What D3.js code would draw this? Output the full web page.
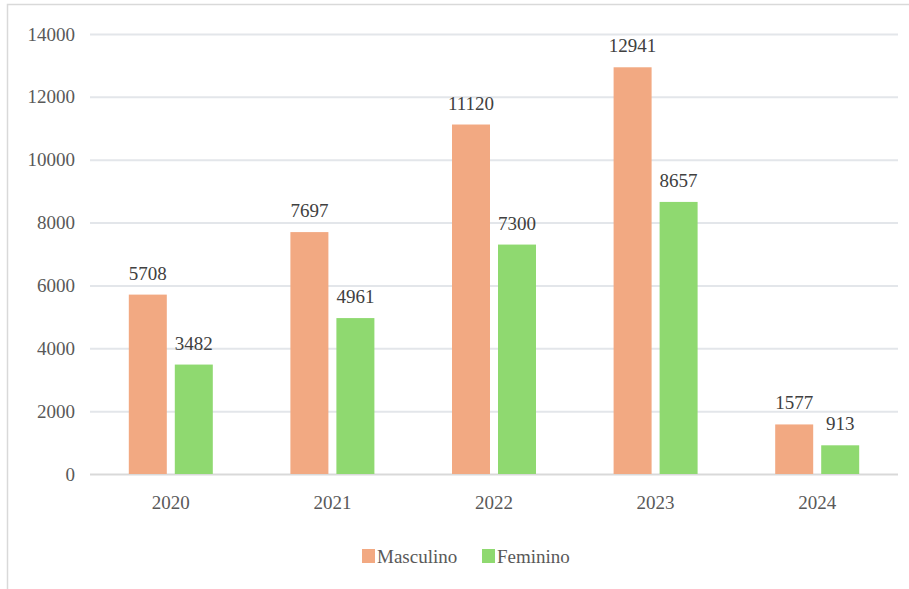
<!DOCTYPE html>
<html>
<head>
<meta charset="utf-8">
<script src="https://cdn.jsdelivr.net/npm/d3@7/dist/d3.min.js"></script>
<style>
  html, body { margin: 0; padding: 0; background: #ffffff; }
  svg { display: block; }
</style>
</head>
<body>
<svg id="chart" width="909" height="589"></svg>
<script>
const years = ["2020", "2021", "2022", "2023", "2024"];
const masculino = [5708, 7697, 11120, 12941, 1577];
const feminino = [3482, 4961, 7300, 8657, 913];
const seriesNames = ["Masculino", "Feminino"];
const seriesColors = ["#F2A982", "#8FD970"];
const yTicks = [0, 2000, 4000, 6000, 8000, 10000, 12000, 14000];

const FONT = "'Liberation Serif', 'Times New Roman', Times, 'DejaVu Serif', serif";

const svg = d3.select("#chart");
const W = 909, H = 589;

// outer frame
svg.append("path")
  .attr("d", `M7.5,${H} L7.5,4.5 L${W},4.5`)
  .attr("fill", "none").attr("stroke", "#d9d9d9").attr("stroke-width", 1.5);

const plot = { left: 90, right: 898, top: 34, bottom: 474 };

const x = d3.scaleBand().domain(years).range([plot.left, plot.right]);
const y = d3.scaleLinear().domain([0, 14000]).range([plot.bottom, plot.top]);

const barW = 38, gap = 8;

// grid lines + y labels
const yAxis = d3.axisLeft(y).tickValues(yTicks).tickSize(-(plot.right - plot.left)).tickPadding(15).tickFormat(d3.format("d"));
const gy = svg.append("g").attr("transform", `translate(${plot.left},0)`).call(yAxis)
  .attr("font-family", null).attr("font-size", null);
gy.select(".domain").remove();
gy.selectAll(".tick line").attr("stroke", "#e3e6ea").attr("stroke-width", 2);
gy.selectAll(".tick").filter(d => d === 0).select("line").attr("stroke", "#d9d9d9");
gy.selectAll(".tick text").style("font-family", FONT).style("font-size", "19px").attr("fill", "#595959");

// x axis labels
const xAxis = d3.axisBottom(x).tickSize(0).tickPadding(22);
const gx = svg.append("g").attr("transform", `translate(0,${plot.bottom})`).call(xAxis)
  .attr("font-family", null).attr("font-size", null);
gx.select(".domain").remove();
gx.selectAll(".tick text").style("font-family", FONT).style("font-size", "19px").attr("fill", "#595959");

const data = years.map((yr, i) => ({ year: yr, values: [masculino[i], feminino[i]] }));

const groupOffset = (x.bandwidth() - (barW * 2 + gap)) / 2;
const groups = svg.append("g").selectAll("g").data(data).join("g")
  .attr("transform", d => `translate(${x(d.year) + groupOffset},0)`);

groups.selectAll("rect").data(d => d.values.map((v, j) => ({ v, j }))).join("rect")
  .attr("x", d => d.j * (barW + gap))
  .attr("y", d => y(d.v))
  .attr("width", barW)
  .attr("height", d => y(0) - y(d.v))
  .attr("fill", d => seriesColors[d.j]);

groups.selectAll("text.lbl").data(d => d.values.map((v, j) => ({ v, j }))).join("text")
  .attr("class", "lbl")
  .attr("x", d => d.j * (barW + gap) + barW / 2)
  .attr("y", d => y(d.v) - 15)
  .attr("text-anchor", "middle")
  .style("font-family", FONT).style("font-size", "19px")
  .attr("fill", "#404040")
  .text(d => d.v);

// legend
const legendX = [362, 482];
const leg = svg.append("g");
seriesNames.forEach((name, i) => {
  leg.append("rect").attr("x", legendX[i]).attr("y", 549).attr("width", 13).attr("height", 14).attr("fill", seriesColors[i]);
  leg.append("text").attr("x", legendX[i] + 15).attr("y", 563)
    .style("font-family", FONT).style("font-size", "19px").attr("fill", "#595959").text(name);
});
</script>
</body>
</html>
